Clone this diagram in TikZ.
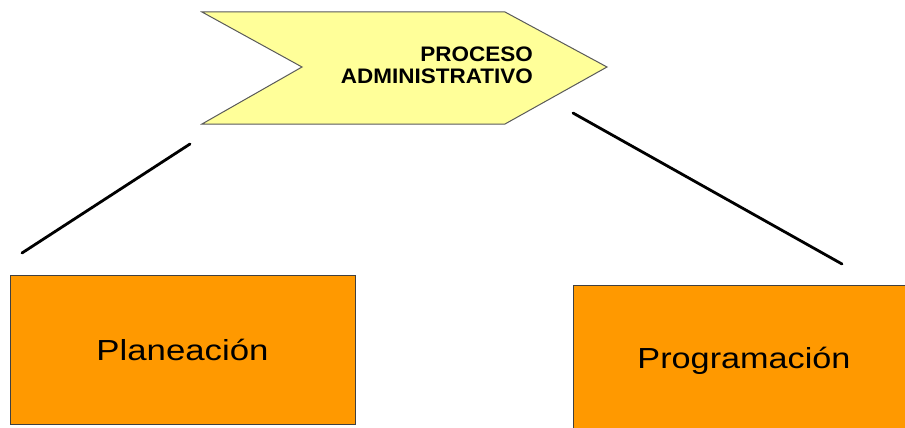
\documentclass[tikz,border=0pt]{standalone}
\usepackage{fontspec}
\setmainfont{Liberation Sans}
\definecolor{chevfill}{HTML}{FFFF99}
\definecolor{chevline}{HTML}{5A5A5A}
\definecolor{boxfill}{HTML}{FF9900}
\definecolor{boxline}{HTML}{404040}
\tikzset{
  chevron/.style={fill=chevfill, draw=chevline, line width=1pt, line join=miter},
  stagebox/.style={rectangle, fill=boxfill, draw=boxline, line width=1pt,
    inner sep=0pt, text height=21pt, text depth=0pt,
    font=\fontsize{29}{31}\selectfont},
  headtext/.style={align=right, inner sep=0pt,
    font=\fontsize{21}{22}\selectfont\bfseries},
  link/.style={line width=2.8pt, line cap=round, black},
}
\begin{document}
\begin{tikzpicture}[x=1pt, y=-1pt]
  \useasboundingbox (0,0) rectangle (905,428);
  \clip (0,0) rectangle (905,428);
  \fill[white] (0,0) rectangle (905,428);

  % header chevron
  \draw[chevron] (202,12) -- (505,12) -- (607,67) -- (505,124)
    -- (202,124) -- (302,67) -- cycle;
  \node[headtext, anchor=base east] (head) at (533,84)
    {\scalebox{1.07}[1]{PROCESO}\\\scalebox{1.07}[1]{ADMINISTRATIVO}};

  % stage boxes
  \node[stagebox, minimum width=345pt, minimum height=149pt] (plan)
    at (182.5,349.5) {\scalebox{1.2}[1]{Planeación}};
  \node[stagebox, minimum width=342pt, minimum height=146pt] (prog)
    at (744,358) {\scalebox{1.18}[1]{Programación}};

  % connecting strokes
  \coordinate (la) at (190,144);
  \coordinate (lb) at (22,253);
  \coordinate (ra) at (573,113);
  \coordinate (rb) at (842,264);
  \draw[link] (la) -- (lb);
  \draw[link] (ra) -- (rb);
\end{tikzpicture}
\end{document}
